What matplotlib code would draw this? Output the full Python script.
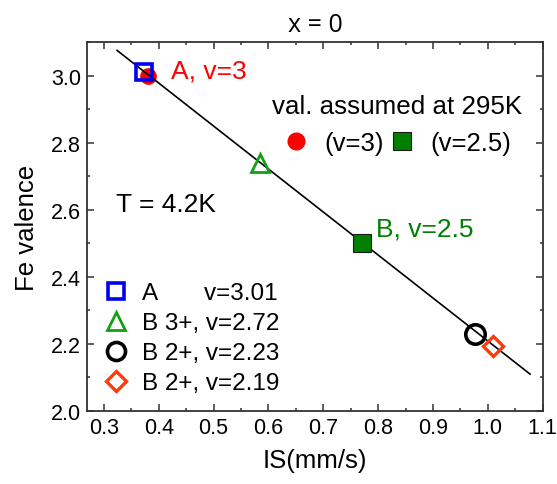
import matplotlib
matplotlib.use("Agg")
import matplotlib.pyplot as plt
from matplotlib.lines import Line2D
from matplotlib.ticker import MultipleLocator

plt.rcParams['font.family'] = ['Liberation Sans', 'DejaVu Sans']

# measured points at T = 4.2K (IS in mm/s, Fe valence)
is_A, val_A = 0.374, 3.01
is_B3, val_B3 = 0.585, 2.74
is_B2a, val_B2a = 0.976, 2.23
is_B2b, val_B2b = 1.009, 2.194

# valences assumed at 295K
is_295_A, val_295_A = 0.381, 3.0
is_295_B, val_295_B = 0.770, 2.5

# linear fit line end points
fit_x = [0.324, 1.077]
fit_y = [3.075, 2.110]

labels = ['A       v=3.01', 'B 3+, v=2.72', 'B 2+, v=2.23', 'B 2+, v=2.19']

spine_col = '#333333'

fig = plt.figure(figsize=(5.57, 4.85), dpi=100)
ax = fig.add_axes([0.157, 0.1505, 0.8173, 0.7608])

ax.plot(is_295_A, val_295_A, 'o', color='red', ms=11, zorder=2)
ax.plot(fit_x, fit_y, '-', color='black', lw=1.2, zorder=3)
ax.plot(is_295_B, val_295_B, 's', color='#008000', mec='#1a1a1a', mew=0.8, ms=13, zorder=4)
ax.plot(is_A, val_A, 's', mfc='none', mec='#0000ee', mew=2.6, ms=12, zorder=5)
ax.plot(is_B3, val_B3, '^', mfc='none', mec='#14a014', mew=2.0, ms=13, zorder=5)
ax.plot(is_B2a, val_B2a, 'o', mfc='none', mec='black', mew=2.6, ms=14, zorder=5)
ax.plot(is_B2b, val_B2b, 'D', mfc='none', mec='#ff3b0a', mew=2.4, ms=10, zorder=5)

ax.text(0.423, 2.993, 'A, v=3', color='red', fontsize=19)
ax.text(0.797, 2.522, 'B, v=2.5', color='#008000', fontsize=19)
ax.text(0.322, 2.596, 'T = 4.2K', color='black', fontsize=19)

h1 = [Line2D([], [], ls='none', marker='s', mfc='none', mec='#0000ee', mew=2.6, ms=12),
      Line2D([], [], ls='none', marker='^', mfc='none', mec='#14a014', mew=2.0, ms=13),
      Line2D([], [], ls='none', marker='o', mfc='none', mec='black', mew=2.6, ms=13),
      Line2D([], [], ls='none', marker='D', mfc='none', mec='#ff3b0a', mew=2.4, ms=10)]
leg1 = ax.legend(h1, labels, loc='lower left', bbox_to_anchor=(0.036, 0.045),
                 frameon=False, fontsize=17.5, handlelength=1.0, handletextpad=0.55,
                 labelspacing=0.33, borderpad=0, borderaxespad=0)
ax.add_artist(leg1)

h2 = [Line2D([], [], ls='none', marker='o', color='red', ms=12),
      Line2D([], [], ls='none', marker='s', color='#008000', mec='#1a1a1a', mew=0.8, ms=13)]
leg2 = ax.legend(h2, ['(v=3)', '(v=2.5)'], loc='upper left', bbox_to_anchor=(0.405, 0.86),
                 ncol=2, frameon=False, fontsize=18.5, title='val. assumed at 295K',
                 title_fontsize=18.7, handlelength=1.0, handletextpad=0.6,
                 columnspacing=0.2, borderpad=0, borderaxespad=0)

ax.set_xlim(0.27, 1.1)
ax.set_ylim(2.0, 3.1)
ax.xaxis.set_major_locator(MultipleLocator(0.1))
ax.xaxis.set_minor_locator(MultipleLocator(0.05))
ax.yaxis.set_major_locator(MultipleLocator(0.2))
ax.yaxis.set_minor_locator(MultipleLocator(0.1))
ax.tick_params(which='both', direction='in', top=True, right=True, color=spine_col, width=1.1)
ax.tick_params(which='major', length=5, labelsize=15.5, pad=4.5)
ax.tick_params(which='minor', length=2.5)
for s in ax.spines.values():
    s.set_color(spine_col)
    s.set_linewidth(1.3)

ax.set_xlabel('IS(mm/s)', fontsize=18.5, labelpad=7)
ax.set_ylabel('Fe valence', fontsize=18.5, labelpad=9)
ax.set_title('x = 0', fontsize=18, family='Open Sans', pad=8)

fig.savefig('out.png', dpi=100)
